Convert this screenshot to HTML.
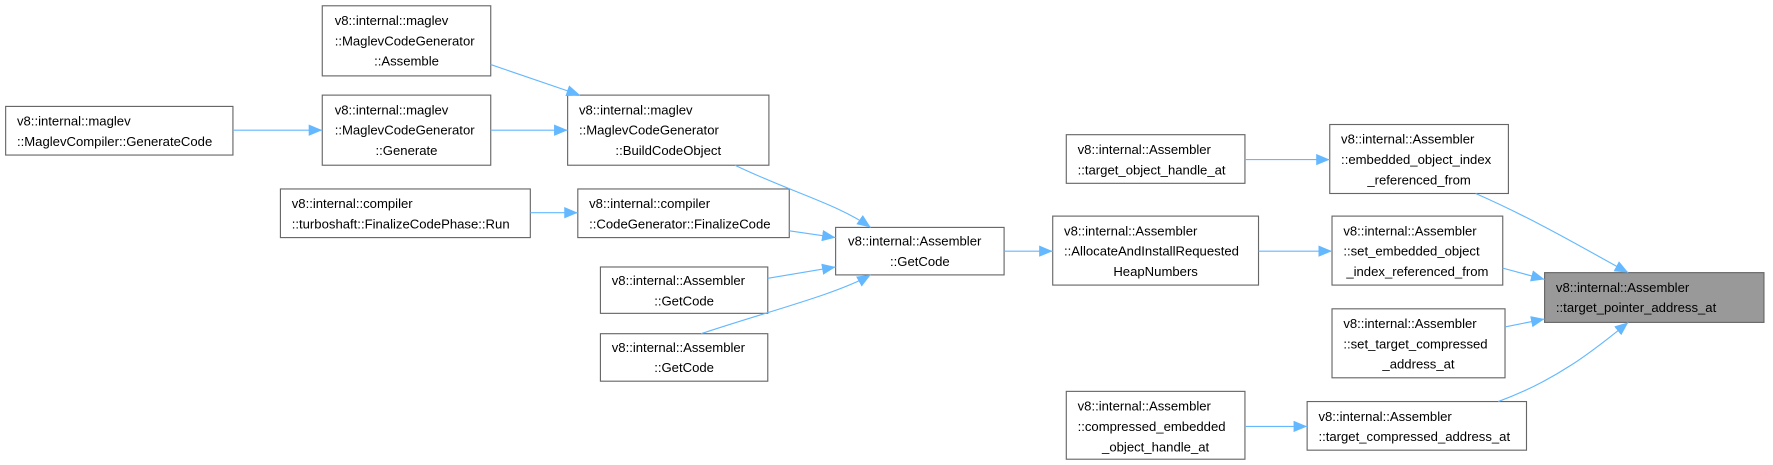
<!DOCTYPE html>
<html><head><meta charset="utf-8"><style>
html,body{margin:0;padding:0;background:#fff;}
svg{display:block;}
text{font-family:"Liberation Sans",sans-serif;font-size:11.6px;fill:#000;}
.n{fill:#fff;stroke:#666;stroke-width:1;}
.e{fill:none;stroke:#63b8ff;stroke-width:1;}
</style></head><body>
<svg width="1773" height="465" viewBox="0 0 1568 411" xmlns="http://www.w3.org/2000/svg">
<defs><marker id="a" markerWidth="12" markerHeight="10" refX="12" refY="5" orient="auto" markerUnits="userSpaceOnUse"><path d="M0,0 L12,5 L0,10 Z" fill="#63b8ff"/></marker></defs>

<!-- nodes -->
<rect class="n" x="285" y="5" width="149" height="62"/>
<text x="296" y="22">v8::internal::maglev</text><text x="296" y="40">::MaglevCodeGenerator</text><text x="359.5" y="58" text-anchor="middle">::Assemble</text>

<rect class="n" x="285" y="84" width="149" height="62"/>
<text x="296" y="101">v8::internal::maglev</text><text x="296" y="119">::MaglevCodeGenerator</text><text x="359.5" y="137" text-anchor="middle">::Generate</text>

<rect class="n" x="5" y="94" width="201" height="43"/>
<text x="15" y="111">v8::internal::maglev</text><text x="15" y="129">::MaglevCompiler::GenerateCode</text>

<rect class="n" x="502" y="84" width="178" height="62"/>
<text x="512" y="101">v8::internal::maglev</text><text x="512" y="119">::MaglevCodeGenerator</text><text x="591" y="137" text-anchor="middle">::BuildCodeObject</text>

<rect class="n" x="248" y="167" width="221" height="43"/>
<text x="258" y="184">v8::internal::compiler</text><text x="258" y="202">::turboshaft::FinalizeCodePhase::Run</text>

<rect class="n" x="511" y="167" width="187" height="43"/>
<text x="521" y="184">v8::internal::compiler</text><text x="521" y="202">::CodeGenerator::FinalizeCode</text>

<rect class="n" x="531" y="236" width="148" height="41"/>
<text x="541" y="252">v8::internal::Assembler</text><text x="605" y="270" text-anchor="middle">::GetCode</text>

<rect class="n" x="531" y="295" width="148" height="42"/>
<text x="541" y="311">v8::internal::Assembler</text><text x="605" y="329" text-anchor="middle">::GetCode</text>

<rect class="n" x="739" y="201" width="149" height="42"/>
<text x="750" y="217">v8::internal::Assembler</text><text x="813.5" y="235" text-anchor="middle">::GetCode</text>

<rect class="n" x="931" y="191" width="182" height="61"/>
<text x="941" y="208">v8::internal::Assembler</text><text x="941" y="226">::AllocateAndInstallRequested</text><text x="1022" y="244" text-anchor="middle">HeapNumbers</text>

<rect class="n" x="943" y="119" width="158" height="43"/>
<text x="953" y="136">v8::internal::Assembler</text><text x="953" y="154">::target_object_handle_at</text>

<rect class="n" x="1176" y="110" width="158" height="61"/>
<text x="1186" y="127">v8::internal::Assembler</text><text x="1186" y="145">::embedded_object_index</text><text x="1255" y="163" text-anchor="middle">_referenced_from</text>

<rect class="n" x="1178" y="191" width="151" height="61"/>
<text x="1188" y="208">v8::internal::Assembler</text><text x="1188" y="226">::set_embedded_object</text><text x="1253.5" y="244" text-anchor="middle">_index_referenced_from</text>

<rect class="n" x="1178" y="273" width="153" height="61"/>
<text x="1188" y="290">v8::internal::Assembler</text><text x="1188" y="308">::set_target_compressed</text><text x="1254.5" y="326" text-anchor="middle">_address_at</text>

<rect x="1366" y="241" width="194" height="44" fill="#999" stroke="#666"/>
<text x="1376" y="258">v8::internal::Assembler</text><text x="1376" y="276">::target_pointer_address_at</text>

<rect class="n" x="943" y="346" width="158" height="60"/>
<text x="953" y="363">v8::internal::Assembler</text><text x="953" y="381">::compressed_embedded</text><text x="1022" y="399" text-anchor="middle">_object_handle_at</text>

<rect class="n" x="1156" y="355" width="194" height="43"/>
<text x="1166" y="372">v8::internal::Assembler</text><text x="1166" y="390">::target_compressed_address_at</text>

<!-- edges -->
<path class="e" marker-end="url(#a)" d="M206,115 L285,115"/>
<path class="e" marker-end="url(#a)" d="M434,57 L513,84"/>
<path class="e" marker-end="url(#a)" d="M434,115 L502,115"/>
<path class="e" marker-end="url(#a)" d="M469,188 L511,188"/>
<path class="e" marker-end="url(#a)" d="M650,146 C700,170 740,180 770,201"/>
<path class="e" marker-end="url(#a)" d="M698,204 L739,210"/>
<path class="e" marker-end="url(#a)" d="M679,246 L739,236"/>
<path class="e" marker-end="url(#a)" d="M620,295 C680,275 740,260 770,243"/>
<path class="e" marker-end="url(#a)" d="M888,222 L931,222"/>
<path class="e" marker-end="url(#a)" d="M1113,222 L1178,222"/>
<path class="e" marker-end="url(#a)" d="M1101,141 L1176,141"/>
<path class="e" marker-end="url(#a)" d="M1305,171 C1360,195 1410,225 1440,241"/>
<path class="e" marker-end="url(#a)" d="M1329,237 L1366,247"/>
<path class="e" marker-end="url(#a)" d="M1331,289 L1366,282"/>
<path class="e" marker-end="url(#a)" d="M1325,355 C1380,335 1415,305 1440,285"/>
<path class="e" marker-end="url(#a)" d="M1101,377 L1156,377"/>
</svg>
</body></html>
